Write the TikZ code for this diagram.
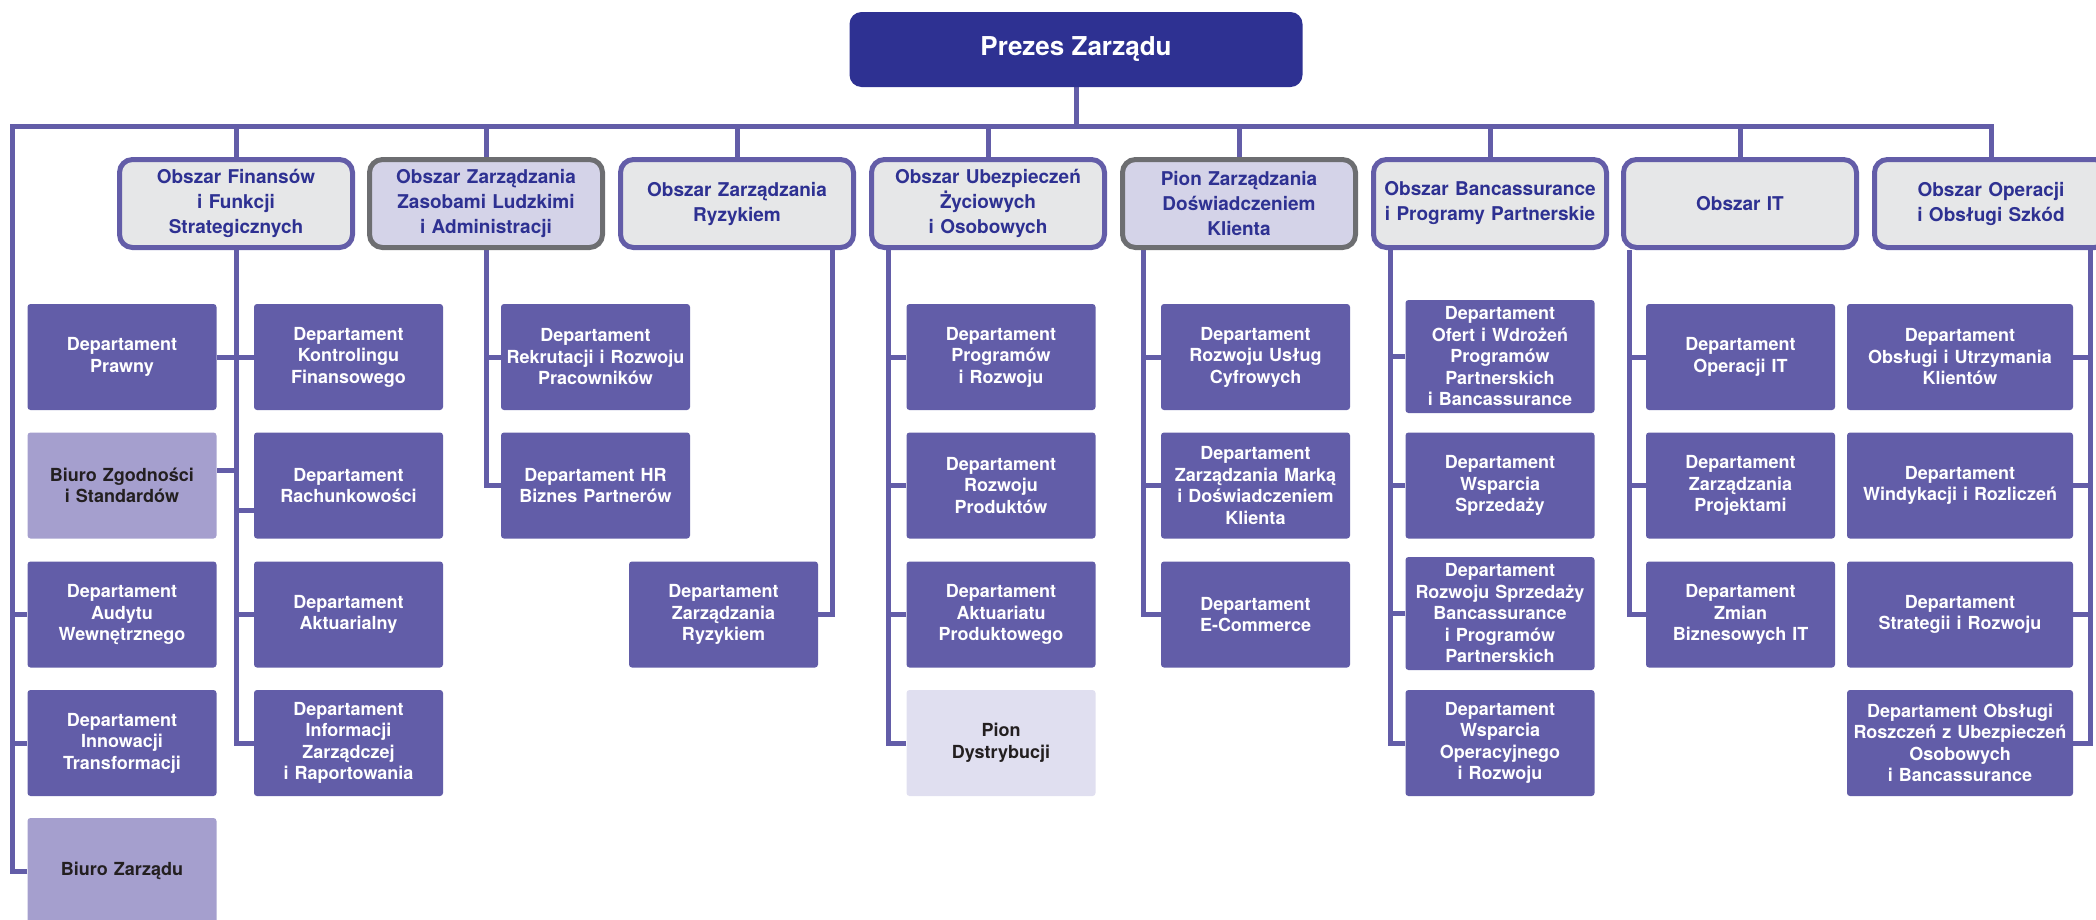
\documentclass[tikz,border=0pt]{standalone}
\usepackage{fontspec}
\setmainfont{TeX Gyre Heros}
\usetikzlibrary{calc}
\definecolor{linec}{RGB}{99,93,168}
\definecolor{deptfill}{RGB}{98,93,168}
\definecolor{prezesc}{RGB}{46,49,146}
\definecolor{hdrfill}{RGB}{230,231,232}
\definecolor{hdrtext}{RGB}{46,49,146}
\definecolor{hdrlav}{RGB}{212,211,232}
\definecolor{hdrgray}{RGB}{109,110,113}
\definecolor{lightA}{RGB}{165,159,206}
\definecolor{lightB}{RGB}{224,223,240}
\definecolor{darktext}{RGB}{35,31,32}
\pgfdeclarelayer{bg}
\pgfsetlayers{bg,main}
\begin{document}
\begin{tikzpicture}[x=1pt,y=-1pt,
  conn/.style={draw=linec, line width=5pt},
  prezes/.style={fill=prezesc, rounded corners=12pt, minimum width=453pt, minimum height=75pt, inner sep=0pt, font=\fontsize{26}{30}\selectfont\bfseries, text=white},
  hdr/.style={draw=linec, line width=5pt, fill=hdrfill, rounded corners=13pt, minimum width=233pt, minimum height=88pt, text width=228pt, align=center, inner sep=0pt, font=\fontsize{19}{25}\selectfont\bfseries, text=hdrtext},
  hdrx/.style={hdr, draw=hdrgray, fill=hdrlav},
  dept/.style={fill=deptfill, rounded corners=3pt, minimum width=189pt, minimum height=106pt, text width=185pt, align=center, inner sep=0pt, font=\fontsize{18}{21.5}\selectfont\bfseries, text=white},
  deptw/.style={dept, minimum width=226pt, text width=222pt},
  depttall/.style={dept, minimum height=113pt},
  lighta/.style={dept, fill=lightA, text=darktext},
  lightb/.style={dept, fill=lightB, text=darktext}
]
\useasboundingbox (0,0) rectangle (2096,919);

% top
\node[prezes] (ceo) at (1076,49.5) {Prezes Zarządu};

% headers
\node[hdr]  (h1) at (236,203.5) {Obszar Finansów\\i Funkcji\\Strategicznych};
\node[hdrx] (h2) at (486,203.5) {Obszar Zarządzania\\Zasobami Ludzkimi\\i Administracji};
\node[hdr]  (h3) at (737,203.5) {Obszar Zarządzania\\Ryzykiem};
\node[hdr]  (h4) at (988,203.5) {Obszar Ubezpieczeń\\Życiowych\\i Osobowych};
\node[hdrx] (h5) at (1239,203.5) {Pion Zarządzania\\Doświadczeniem\\Klienta};
\node[hdr]  (h6) at (1490,203.5) {Obszar Bancassurance\\i Programy Partnerskie};
\node[hdr]  (h7) at (1740,203.5) {Obszar IT};
\node[hdr]  (h8) at (1991,203.5) {Obszar Operacji\\i Obsługi Szkód};

% column A
\node[dept]   (a1) at (122,357)   {Departament\\Prawny};
\node[lighta] (a2) at (122,485.5) {Biuro Zgodności\\i Standardów};
\node[dept]   (a3) at (122,614.5) {Departament\\Audytu\\Wewnętrznego};
\node[dept]   (a4) at (122,743)   {Departament\\Innowacji\\Transformacji};
\node[lighta] (a5) at (122,871)   {Biuro Zarządu};
% column B
\node[dept] (b1) at (348.5,357)   {Departament\\Kontrolingu\\Finansowego};
\node[dept] (b2) at (348.5,485.5) {Departament\\Rachunkowości};
\node[dept] (b3) at (348.5,614.5) {Departament\\Aktuarialny};
\node[dept] (b4) at (348.5,743)   {Departament\\Informacji\\Zarządczej\\i Raportowania};
% HR
\node[dept] (hr1) at (595.5,357)   {Departament\\Rekrutacji i Rozwoju\\Pracowników};
\node[dept] (hr2) at (595.5,485.5) {Departament HR\\Biznes Partnerów};
% Ryzyko
\node[dept] (r3) at (723.5,614.5) {Departament\\Zarządzania\\Ryzykiem};
% Ubezpieczenia
\node[dept]   (u1) at (1001,357)   {Departament\\Programów\\i Rozwoju};
\node[dept]   (u2) at (1001,485.5) {Departament\\Rozwoju\\Produktów};
\node[dept]   (u3) at (1001,614.5) {Departament\\Aktuariatu\\Produktowego};
\node[lightb] (u4) at (1001,743)   {Pion\\Dystrybucji};
% Pion klienta
\node[dept] (p1) at (1255.5,357)   {Departament\\Rozwoju Usług\\Cyfrowych};
\node[dept] (p2) at (1255.5,485.5) {Departament\\Zarządzania Marką\\i Doświadczeniem\\Klienta};
\node[dept] (p3) at (1255.5,614.5) {Departament\\E-Commerce};
% Bancassurance
\node[depttall] (bc1) at (1500,356.5) {Departament\\Ofert i Wdrożeń\\Programów\\Partnerskich\\i Bancassurance};
\node[dept]     (bc2) at (1500,485.5) {Departament\\Wsparcia\\Sprzedaży};
\node[depttall] (bc3) at (1500,613.5) {Departament\\Rozwoju Sprzedaży\\Bancassurance\\i Programów\\Partnerskich};
\node[dept]     (bc4) at (1500,743)   {Departament\\Wsparcia\\Operacyjnego\\i Rozwoju};
% IT
\node[dept] (it1) at (1740.5,357)   {Departament\\Operacji IT};
\node[dept] (it2) at (1740.5,485.5) {Departament\\Zarządzania\\Projektami};
\node[dept] (it3) at (1740.5,614.5) {Departament\\Zmian\\Biznesowych IT};
% Operacje
\node[deptw] (o1) at (1960,357)   {Departament\\Obsługi i Utrzymania\\Klientów};
\node[deptw] (o2) at (1960,485.5) {Departament\\Windykacji i Rozliczeń};
\node[deptw] (o3) at (1960,614.5) {Departament\\Strategii i Rozwoju};
\node[deptw] (o4) at (1960,743)   {Departament Obsługi\\Roszczeń z Ubezpieczeń\\Osobowych\\i Bancassurance};

% connector anchors
\coordinate (busL) at (12,126);
\coordinate (busR) at (h8.north |- busL);
\coordinate (h3s) at ($(h3.south)+(95,0)$);
\coordinate (h4s) at ($(h4.south)+(-100,0)$);
\coordinate (h5s) at ($(h5.south)+(-96,0)$);
\coordinate (h6s) at ($(h6.south)+(-100,0)$);
\coordinate (h7s) at ($(h7.south)+(-111,0)$);
\coordinate (h8s) at ($(h8.south)+(99,0)$);
\coordinate (a2c) at ($(a2.east)+(0,-15)$);
\coordinate (b2c) at ($(b2.west)+(0,25)$);

\begin{pgfonlayer}{bg}
  \draw[conn] (a5.west) -| (busL) -- (busR) -- (h8.north);
  \draw[conn] (ceo.south) -- (ceo.south |- busL);
  \foreach \h in {h1,h2,h3,h4,h5,h6,h7} \draw[conn] (\h.north) -- (\h.north |- busL);
  \draw[conn] (a3.west) -- (a3.west -| busL);
  \draw[conn] (a4.west) -- (a4.west -| busL);
  % Finanse
  \draw[conn] (h1.south) |- (b4.west);
  \draw[conn] (a1.east) -- (b1.west);
  \draw[conn] (a2c) -- (a2c -| h1.south);
  \draw[conn] (b2c) -- (b2c -| h1.south);
  \draw[conn] (b3.west) -- (b3.west -| h1.south);
  % HR
  \draw[conn] (h2.south) |- (hr2.west);
  \draw[conn] (hr1.west) -- (hr1.west -| h2.south);
  % Ryzyko
  \draw[conn] (h3s) |- (r3.east);
  % Ubezpieczenia
  \draw[conn] (h4s) |- (u4.west);
  \foreach \n in {u1,u2,u3} \draw[conn] (\n.west) -- (\n.west -| h4s);
  % Pion
  \draw[conn] (h5s) |- (p3.west);
  \foreach \n in {p1,p2} \draw[conn] (\n.west) -- (\n.west -| h5s);
  % Bancassurance
  \draw[conn] (h6s) |- (bc4.west);
  \foreach \n in {bc1,bc2,bc3} \draw[conn] (\n.west) -- (\n.west -| h6s);
  % IT
  \draw[conn] (h7s) |- (it3.west);
  \foreach \n in {it1,it2} \draw[conn] (\n.west) -- (\n.west -| h7s);
  % Operacje
  \draw[conn] (h8s) |- (o4.east);
  \foreach \n in {o1,o2,o3} \draw[conn] (\n.east) -- (\n.east -| h8s);
\end{pgfonlayer}
\end{tikzpicture}
\end{document}
